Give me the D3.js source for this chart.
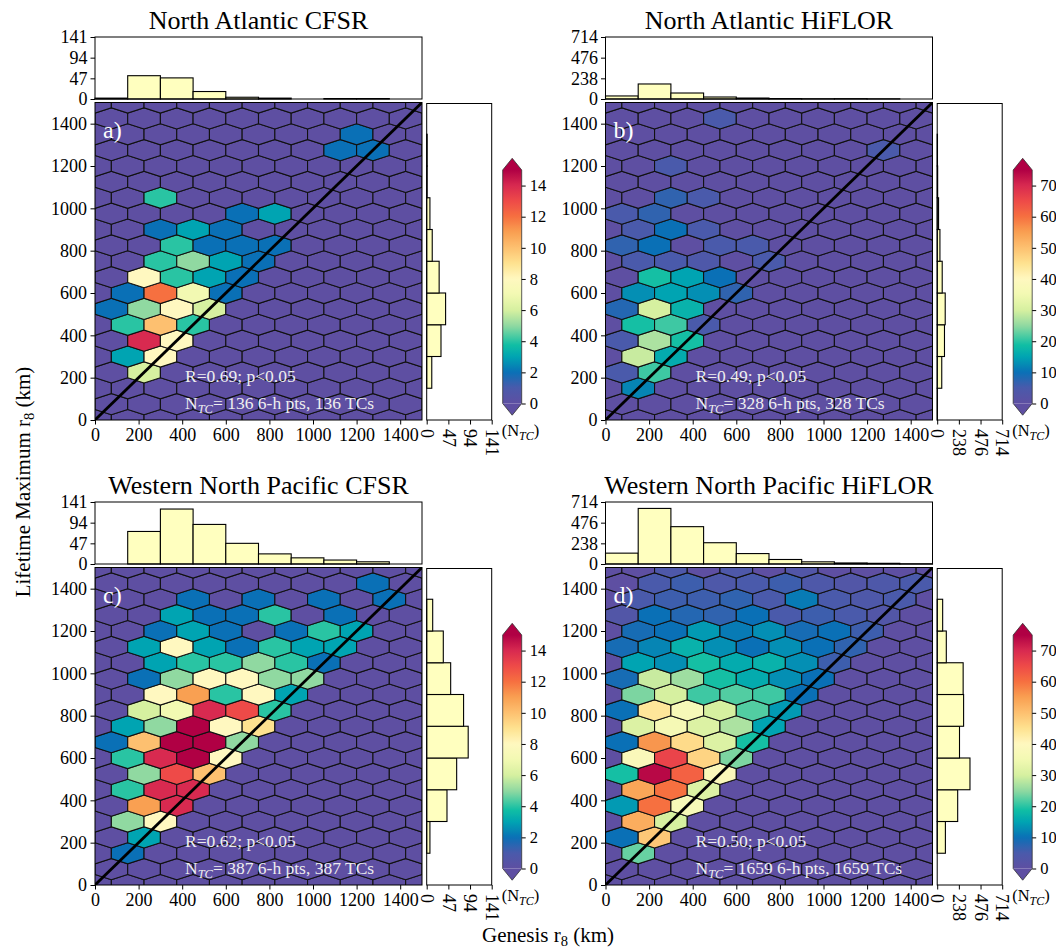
<!DOCTYPE html>
<html>
<head>
<meta charset="utf-8">
<script src="https://cdn.jsdelivr.net/npm/d3@7"></script>
<style>
  body { margin: 0; background: #fff; }
  text { font-family: "Liberation Serif", "Times New Roman", serif; }
</style>
</head>
<body>
<svg id="fig" width="1056" height="951"></svg>
<script>
// ---- data ----
const titles = ['North Atlantic CFSR', 'North Atlantic HiFLOR', 'Western North Pacific CFSR', 'Western North Pacific HiFLOR'];
const panelLabels = ['a)', 'b)', 'c)', 'd)'];
const corrR = ['0.69', '0.49', '0.62', '0.50'];
const nTC = [136, 328, 387, 1659];

const axisTicks = [0, 200, 400, 600, 800, 1000, 1200, 1400];
const binEdges = [0, 150, 300, 450, 600, 750, 900, 1050, 1200, 1350, 1500];
const cfsrHistTicks = [0, 47, 94, 141];
const hiflorHistTicks = [0, 238, 476, 714];
const cfsrCbarTicks = [0, 2, 4, 6, 8, 10, 12, 14];
const hiflorCbarTicks = [0, 10, 20, 30, 40, 50, 60, 70];
const cfsrVmax = 15;
const hiflorVmax = 75;

// marginal histograms (counts per 150 km bin)
const genesisNA_CFSR = [2, 53, 48, 17, 4, 2, 0, 1, 1, 0];
const lmiNA_CFSR = [0, 11, 31, 41, 27, 12, 7, 1, 1, 0];
const genesisNA_HiFLOR = [35, 173, 69, 23, 11, 5, 3, 4, 2, 0];
const lmiNA_HiFLOR = [2, 50, 80, 88, 55, 30, 15, 5, 3, 0];
const genesisWNP_CFSR = [0, 74, 125, 90, 47, 23, 14, 9, 5, 0];
const lmiWNP_CFSR = [0, 7, 44, 65, 90, 80, 52, 36, 13, 0];
const genesisWNP_HiFLOR = [125, 640, 430, 245, 120, 52, 25, 12, 8, 2];
const lmiWNP_HiFLOR = [0, 90, 225, 360, 245, 290, 285, 100, 60, 0];

// hexbin cells: [genesis r8 centre (km), LMI r8 centre (km), count]; other cells are 0
const cellsNA_CFSR = [
  [1200, 1350, 2],
  [1125, 1275, 2], [1275, 1275, 2],
  [300, 1050, 4],
  [675, 975, 2], [825, 975, 3],
  [300, 900, 2], [450, 900, 3], [600, 900, 2],
  [375, 825, 4], [525, 825, 2], [675, 825, 2], [825, 825, 2],
  [300, 750, 4], [450, 750, 5], [600, 750, 3], [750, 750, 2],
  [225, 675, 8], [375, 675, 4], [525, 675, 3], [675, 675, 2],
  [150, 600, 2], [300, 600, 12], [450, 600, 7], [600, 600, 2],
  [75, 525, 2], [225, 525, 5], [375, 525, 8], [525, 525, 6],
  [150, 450, 4], [300, 450, 10], [450, 450, 4],
  [225, 375, 14], [375, 375, 8],
  [150, 300, 3], [300, 300, 8],
  [225, 225, 6]
];
const cellsNA_HiFLOR = [
  [525, 1425, 5],
  [1275, 1275, 5],
  [300, 1200, 5],
  [300, 1050, 7], [450, 1050, 5],
  [75, 975, 5], [225, 975, 7],
  [150, 900, 5], [300, 900, 10], [450, 900, 5],
  [75, 825, 7], [225, 825, 10], [525, 825, 5], [675, 825, 5],
  [150, 750, 5], [300, 750, 5], [450, 750, 4], [750, 750, 5],
  [225, 675, 19], [375, 675, 15], [525, 675, 10],
  [150, 600, 13], [300, 600, 15], [450, 600, 13], [600, 600, 7],
  [75, 525, 8], [225, 525, 30], [375, 525, 17],
  [150, 450, 19], [300, 450, 21], [450, 450, 5],
  [75, 375, 5], [225, 375, 27], [375, 375, 19],
  [150, 300, 29], [300, 300, 16],
  [75, 225, 5], [225, 225, 21],
  [150, 150, 12]
];
const cellsWNP_CFSR = [
  [1275, 1425, 2],
  [450, 1350, 2], [750, 1350, 2], [1050, 1350, 2], [1350, 1350, 2],
  [375, 1275, 3], [525, 1275, 2], [675, 1275, 2], [825, 1275, 4], [1125, 1275, 2],
  [300, 1200, 2], [450, 1200, 3], [600, 1200, 2], [900, 1200, 2], [1050, 1200, 4], [1200, 1200, 3],
  [225, 1125, 3], [375, 1125, 8], [525, 1125, 3], [675, 1125, 2], [825, 1125, 4], [975, 1125, 3], [1125, 1125, 3],
  [300, 1050, 3], [450, 1050, 4], [600, 1050, 4], [750, 1050, 5], [900, 1050, 4], [1050, 1050, 2],
  [225, 975, 2], [375, 975, 5], [525, 975, 8], [675, 975, 8], [825, 975, 5], [975, 975, 5],
  [300, 900, 8], [450, 900, 11], [600, 900, 4], [750, 900, 8], [900, 900, 3],
  [225, 825, 6], [375, 825, 7], [525, 825, 14], [675, 825, 13], [825, 825, 4],
  [150, 750, 3], [300, 750, 5], [450, 750, 15], [600, 750, 8], [750, 750, 9],
  [75, 675, 2], [225, 675, 10], [375, 675, 15], [525, 675, 15], [675, 675, 5],
  [150, 600, 4], [300, 600, 14], [450, 600, 15], [600, 600, 8],
  [225, 525, 5], [375, 525, 13], [525, 525, 10],
  [150, 450, 4], [300, 450, 14], [450, 450, 14],
  [225, 375, 11], [375, 375, 14],
  [150, 300, 5], [300, 300, 8],
  [225, 225, 3],
  [150, 150, 2]
];
const cellsWNP_HiFLOR = [
  [300, 1500, 4], [600, 1500, 4], [900, 1500, 3],
  [225, 1425, 5], [375, 1425, 6], [525, 1425, 4], [675, 1425, 5], [825, 1425, 6], [975, 1425, 4], [1125, 1425, 3], [1275, 1425, 4], [1425, 1425, 5],
  [150, 1350, 5], [300, 1350, 6], [450, 1350, 6], [600, 1350, 7], [750, 1350, 5], [900, 1350, 11], [1050, 1350, 5], [1200, 1350, 4], [1350, 1350, 5],
  [75, 1275, 3], [225, 1275, 10], [375, 1275, 8], [525, 1275, 7], [675, 1275, 10], [825, 1275, 5], [975, 1275, 6], [1125, 1275, 5], [1275, 1275, 3],
  [150, 1200, 9], [300, 1200, 10], [450, 1200, 14], [600, 1200, 11], [750, 1200, 13], [900, 1200, 9], [1050, 1200, 10], [1200, 1200, 6],
  [75, 1125, 9], [225, 1125, 12], [375, 1125, 17], [525, 1125, 13], [675, 1125, 10], [825, 1125, 13], [975, 1125, 10], [1125, 1125, 7],
  [150, 1050, 15], [300, 1050, 13], [450, 1050, 19], [600, 1050, 16], [750, 1050, 17], [900, 1050, 13], [1050, 1050, 6],
  [75, 975, 9], [225, 975, 29], [375, 975, 26], [525, 975, 19], [675, 975, 16], [825, 975, 13], [975, 975, 10],
  [150, 900, 24], [300, 900, 30], [450, 900, 21], [600, 900, 22], [750, 900, 21], [900, 900, 10],
  [75, 825, 10], [225, 825, 44], [375, 825, 37], [525, 825, 30], [675, 825, 22], [825, 825, 14],
  [150, 750, 31], [300, 750, 36], [450, 750, 31], [600, 750, 27], [750, 750, 15],
  [75, 675, 10], [225, 675, 56], [375, 675, 46], [525, 675, 31], [675, 675, 19],
  [150, 600, 38], [300, 600, 66], [450, 600, 47], [600, 600, 24],
  [75, 525, 19], [225, 525, 74], [375, 525, 62], [525, 525, 38],
  [150, 450, 54], [300, 450, 60], [450, 450, 31],
  [75, 375, 14], [225, 375, 60], [375, 375, 37],
  [150, 300, 53], [300, 300, 30],
  [75, 225, 10], [225, 225, 49],
  [150, 150, 23]
];

// colormap stops (Spectral-like, as in the colour bars)
const cmapStops = [
  [0.000, '#5e4fa2'], [0.067, '#4a5aab'], [0.133, '#0a70b6'], [0.200, '#00a4b2'],
  [0.250, '#10bea4'], [0.300, '#5ccfa2'], [0.333, '#90d9a1'], [0.400, '#d6f0a0'],
  [0.467, '#f2f9b2'], [0.533, '#fff8c0'], [0.600, '#fee290'], [0.667, '#fdc070'],
  [0.733, '#f9a052'], [0.800, '#f67040'], [0.867, '#ee4a48'], [0.933, '#d82a50'],
  [1.000, '#b00044']
];

const panels = [
  { cells: cellsNA_CFSR, top: genesisNA_CFSR, right: lmiNA_CFSR, vmax: cfsrVmax, cbarTicks: cfsrCbarTicks, histTicks: cfsrHistTicks },
  { cells: cellsNA_HiFLOR, top: genesisNA_HiFLOR, right: lmiNA_HiFLOR, vmax: hiflorVmax, cbarTicks: hiflorCbarTicks, histTicks: hiflorHistTicks },
  { cells: cellsWNP_CFSR, top: genesisWNP_CFSR, right: lmiWNP_CFSR, vmax: cfsrVmax, cbarTicks: cfsrCbarTicks, histTicks: cfsrHistTicks },
  { cells: cellsWNP_HiFLOR, top: genesisWNP_HiFLOR, right: lmiWNP_HiFLOR, vmax: hiflorVmax, cbarTicks: hiflorCbarTicks, histTicks: hiflorHistTicks }
].map((p, i) => ({ ...p, title: titles[i], label: panelLabels[i], r: corrR[i], n: nTC[i] }));

// ---- drawing ----
const svg = d3.select('#fig');
const defs = svg.append('defs');
const histFill = '#ffffbf';
const fontTick = 18;
const fmt = d3.format('d');

const cmap = d3.scaleLinear()
  .domain(cmapStops.map(d => d[0]))
  .range(cmapStops.map(d => d[1]))
  .interpolate(d3.interpolateRgb)
  .clamp(true);

defs.append('linearGradient')
  .attr('id', 'cbarGrad')
  .attr('x1', 0).attr('y1', 1).attr('x2', 0).attr('y2', 0)
  .selectAll('stop')
  .data(d3.range(0, 1.0001, 0.01))
  .join('stop')
  .attr('offset', d => d)
  .attr('stop-color', d => cmap(d));

// hexagon lattice (matplotlib style, 150 km wide bins)
const hexCentres = [];
for (let j = 0; j <= 20; j++) {
  const yc = 75 * j;
  const start = j % 2 ? 75 : 0, stop = j % 2 ? 1425 : 1500;
  for (let xc = start; xc <= stop; xc += 150) hexCentres.push([xc, yc]);
}
const hexShape = [[75, -25], [75, 25], [0, 50], [-75, 25], [-75, -25], [0, -50]];

function styleAxis(g, size) {
  g.attr('font-size', size)
    .attr('font-family', '"Liberation Serif", "Times New Roman", serif')
    .attr('color', '#000');
  g.select('.domain').remove();
  g.selectAll('.tick line').attr('stroke-width', 1);
}

function drawPanel(p, i) {
  const ox = 510.5 * (i % 2), oy = 465 * Math.floor(i / 2);
  const X0 = 95 + ox, X1 = 422 + ox, Y0 = 102.5 + oy, Y1 = 420 + oy;
  const x = d3.scaleLinear().domain([0, 1500]).range([X0, X1]);
  const y = d3.scaleLinear().domain([0, 1500]).range([Y1, Y0]);
  const g = svg.append('g').attr('class', 'panel');
  const histMax = d3.max(p.histTicks);

  // title
  g.append('text')
    .attr('x', (X0 + X1) / 2).attr('y', 28.5 + oy)
    .attr('text-anchor', 'middle').attr('font-size', 26)
    .text(p.title);

  // ---- top histogram (genesis) ----
  const hTop = 37 + oy, hBot = 99 + oy;
  const yh = d3.scaleLinear().domain([0, histMax]).range([hBot, hTop]);
  g.append('g').selectAll('rect').data(p.top).join('rect')
    .attr('x', (d, k) => x(binEdges[k]))
    .attr('width', (d, k) => x(binEdges[k + 1]) - x(binEdges[k]))
    .attr('y', d => yh(d))
    .attr('height', d => hBot - yh(d))
    .attr('fill', histFill).attr('stroke', '#000').attr('stroke-width', 1.1);
  g.append('rect')
    .attr('x', X0).attr('y', hTop).attr('width', X1 - X0).attr('height', hBot - hTop)
    .attr('fill', 'none').attr('stroke', '#000').attr('stroke-width', 1);
  g.append('g').attr('transform', `translate(${X0},0)`)
    .call(d3.axisLeft(yh).tickValues(p.histTicks).tickFormat(fmt).tickSize(4.5).tickPadding(3))
    .call(a => styleAxis(a, fontTick));

  // ---- main hexbin ----
  const clipId = `clip${i}`;
  defs.append('clipPath').attr('id', clipId)
    .append('rect').attr('x', X0).attr('y', Y0).attr('width', X1 - X0).attr('height', Y1 - Y0);
  const counts = new Map(p.cells.map(c => [`${c[0]},${c[1]}`, c[2]]));
  const hexG = g.append('g').attr('clip-path', `url(#${clipId})`);
  hexG.selectAll('path.hex').data(hexCentres).join('path')
    .attr('class', 'hex')
    .attr('d', ([cx, cy]) => 'M' + hexShape.map(([dx, dy]) => [x(cx + dx), y(cy + dy)].join(',')).join('L') + 'Z')
    .attr('fill', ([cx, cy]) => cmap((counts.get(`${cx},${cy}`) || 0) / p.vmax))
    .attr('stroke', '#111').attr('stroke-width', 1.1);
  // 1:1 line
  hexG.append('line')
    .attr('x1', x(0)).attr('y1', y(0)).attr('x2', x(1500)).attr('y2', y(1500))
    .attr('stroke', '#000').attr('stroke-width', 2.8);
  g.append('rect')
    .attr('x', X0).attr('y', Y0).attr('width', X1 - X0).attr('height', Y1 - Y0)
    .attr('fill', 'none').attr('stroke', '#000').attr('stroke-width', 1);
  g.append('g').attr('transform', `translate(${X0},0)`)
    .call(d3.axisLeft(y).tickValues(axisTicks).tickFormat(fmt).tickSize(4.5).tickPadding(3.5))
    .call(a => styleAxis(a, fontTick));
  g.append('g').attr('transform', `translate(0,${Y1})`)
    .call(d3.axisBottom(x).tickValues(axisTicks).tickFormat(fmt).tickSize(4.5).tickPadding(3.5))
    .call(a => styleAxis(a, fontTick));

  // annotations
  g.append('text')
    .attr('x', X0 + 8).attr('y', Y0 + 35)
    .attr('font-size', 24).attr('fill', '#fff')
    .text(p.label);
  g.append('text')
    .attr('x', X0 + 90).attr('y', Y1 - 38.5)
    .attr('font-size', 17.5).attr('fill', '#eeeeee')
    .text(`R=${p.r}; p<0.05`);
  const nt = g.append('text')
    .attr('x', X0 + 90).attr('y', Y1 - 11.5)
    .attr('font-size', 17.5).attr('fill', '#eeeeee');
  nt.append('tspan').text('N');
  nt.append('tspan').attr('font-style', 'italic').attr('font-size', 12.5).attr('dy', 4).text('TC');
  nt.append('tspan').attr('dy', -4).text(`= ${p.n} 6-h pts, ${p.n} TCs`);

  // ---- right histogram (LMI) ----
  const rX0 = 426.7 + ox, rX1 = 491.7 + ox;
  const xh = d3.scaleLinear().domain([0, histMax]).range([rX0, rX1]);
  g.append('g').selectAll('rect').data(p.right).join('rect')
    .attr('x', rX0)
    .attr('width', d => xh(d) - rX0)
    .attr('y', (d, k) => y(binEdges[k + 1]))
    .attr('height', (d, k) => y(binEdges[k]) - y(binEdges[k + 1]))
    .attr('fill', histFill).attr('stroke', '#000').attr('stroke-width', 1.1);
  g.append('rect')
    .attr('x', rX0).attr('y', Y0 + 1).attr('width', rX1 - rX0).attr('height', Y1 - Y0 - 1)
    .attr('fill', 'none').attr('stroke', '#000').attr('stroke-width', 1);
  g.append('g').attr('transform', `translate(0,${Y1})`)
    .call(d3.axisBottom(xh).tickValues(p.histTicks).tickFormat(fmt).tickSize(4.5).tickPadding(3))
    .call(a => styleAxis(a, fontTick))
    .call(a => a.selectAll('text')
      .attr('transform', 'rotate(90)')
      .attr('text-anchor', 'start')
      .attr('x', 9).attr('y', 0).attr('dy', '0.35em'));

  // ---- colour bar ----
  const cX0 = 502.7 + ox, cX1 = 521.7 + ox, cMid = (cX0 + cX1) / 2, ext = 11.7;
  const cb = d3.scaleLinear().domain([0, p.vmax]).range([403.5 + oy, 170 + oy]);
  g.append('rect')
    .attr('x', cX0).attr('y', cb(p.vmax)).attr('width', cX1 - cX0).attr('height', cb(0) - cb(p.vmax))
    .attr('fill', 'url(#cbarGrad)');
  g.append('path')
    .attr('d', `M${cX0},${cb(p.vmax)}L${cMid},${cb(p.vmax) - ext}L${cX1},${cb(p.vmax)}Z`)
    .attr('fill', cmap(1));
  g.append('path')
    .attr('d', `M${cX0},${cb(0)}L${cMid},${cb(0) + ext}L${cX1},${cb(0)}Z`)
    .attr('fill', cmap(0));
  g.append('path')
    .attr('d', `M${cX0},${cb(0)}L${cX0},${cb(p.vmax)}L${cMid},${cb(p.vmax) - ext}L${cX1},${cb(p.vmax)}L${cX1},${cb(0)}L${cMid},${cb(0) + ext}Z`)
    .attr('fill', 'none').attr('stroke', '#333').attr('stroke-width', 0.8);
  g.append('g').attr('transform', `translate(${cX1},0)`)
    .call(d3.axisRight(cb).tickValues(p.cbarTicks).tickFormat(fmt).tickSize(4).tickPadding(4))
    .call(a => styleAxis(a, 16.5));
  const cl = g.append('text')
    .attr('x', cX0 - 1).attr('y', 436 + oy).attr('font-size', 16.5);
  cl.append('tspan').text('(N');
  cl.append('tspan').attr('font-style', 'italic').attr('font-size', 12).attr('dy', 3.5).text('TC');
  cl.append('tspan').attr('dy', -3.5).text(')');
}

panels.forEach(drawPanel);

// shared axis labels
const yl = svg.append('text')
  .attr('transform', 'translate(30,482) rotate(-90)')
  .attr('text-anchor', 'middle').attr('font-size', 21);
yl.append('tspan').text('Lifetime Maximum r');
yl.append('tspan').attr('font-size', 14.5).attr('dy', 4).text('8');
yl.append('tspan').attr('dy', -4).text(' (km)');

const xl = svg.append('text')
  .attr('x', 548).attr('y', 942)
  .attr('text-anchor', 'middle').attr('font-size', 21);
xl.append('tspan').text('Genesis r');
xl.append('tspan').attr('font-size', 14.5).attr('dy', 3.5).text('8');
xl.append('tspan').attr('dy', -3.5).text(' (km)');
</script>
</body>
</html>
